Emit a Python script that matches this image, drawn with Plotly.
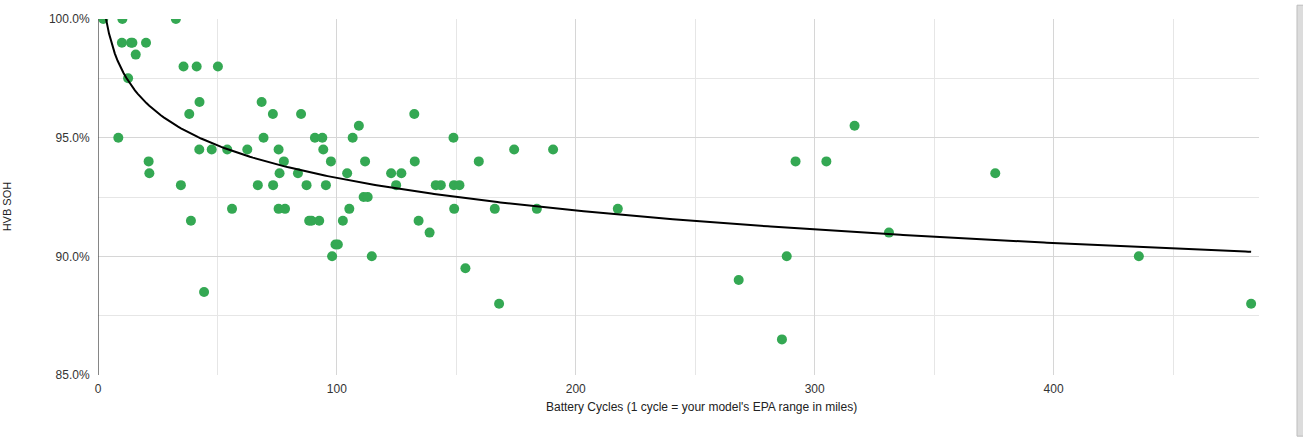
import numpy as np
import plotly.graph_objects as go

# Battery cycles (x) and HVB SOH (%), grouped by SOH row
soh_100_0 = [2.2, 10.2, 32.6]
soh_99_0 = [10.0, 13.8, 14.4, 20.1]
soh_98_5 = [15.8]
soh_98_0 = [35.8, 41.3, 50.2]
soh_97_5 = [12.6]
soh_96_5 = [42.5, 68.5]
soh_96_0 = [38.2, 73.2, 85.0, 132.4]
soh_95_5 = [109.2, 316.7]
soh_95_0 = [8.5, 69.3, 90.8, 93.9, 106.6, 148.8]
soh_94_5 = [42.4, 47.6, 54.1, 62.5, 75.6, 94.3, 174.2, 190.5]
soh_94_0 = [21.2, 77.8, 97.5, 111.8, 132.6, 159.4, 292.0, 304.9]
soh_93_5 = [21.5, 76.0, 83.7, 104.3, 122.7, 127.0, 375.6]
soh_93_0 = [34.7, 66.9, 73.3, 87.3, 95.4, 124.8, 141.4, 143.5, 149.0, 151.3]
soh_92_5 = [111.2, 112.9]
soh_92_0 = [56.1, 75.6, 78.3, 105.2, 149.1, 166.1, 183.7, 217.6]
soh_91_5 = [38.9, 88.4, 89.4, 92.6, 102.5, 134.2]
soh_91_0 = [138.8, 331.1]
soh_90_5 = [99.4, 100.4]
soh_90_0 = [98.0, 114.6, 288.3, 435.7]
soh_89_5 = [153.8]
soh_89_0 = [268.2]
soh_88_5 = [44.4]
soh_88_0 = [167.9, 482.7]
soh_86_5 = [286.3]

rows = {
    100.0: soh_100_0, 99.0: soh_99_0, 98.5: soh_98_5, 98.0: soh_98_0,
    97.5: soh_97_5, 96.5: soh_96_5, 96.0: soh_96_0, 95.5: soh_95_5,
    95.0: soh_95_0, 94.5: soh_94_5, 94.0: soh_94_0, 93.5: soh_93_5,
    93.0: soh_93_0, 92.5: soh_92_5, 92.0: soh_92_0, 91.5: soh_91_5,
    91.0: soh_91_0, 90.5: soh_90_5, 90.0: soh_90_0, 89.5: soh_89_5,
    89.0: soh_89_0, 88.5: soh_88_5, 88.0: soh_88_0, 86.5: soh_86_5,
}
cycles = []
soh = []
for s, xs in rows.items():
    for c in xs:
        cycles.append(c)
        soh.append(s)
cycles = np.array(cycles)
soh = np.array(soh)

x_ticks = [0, 100, 200, 300, 400]
y_ticks = [85, 90, 95, 100]
y_tick_labels = ["85.0%", "90.0%", "95.0%", "100.0%"]

# Logarithmic trendline fitted to the data (as the spreadsheet does)
b, a = np.polyfit(np.log(cycles), soh, 1)
tx = np.linspace(cycles.min(), cycles.max(), 400)
ty = a + b * np.log(tx)

FONT = "Liberation Sans, Arial, sans-serif"

fig = go.Figure()
fig.add_trace(go.Scatter(x=cycles, y=soh, mode="markers",
                         marker=dict(color="#34a853", size=10, line=dict(width=0)),
                         showlegend=False, cliponaxis=True))
fig.add_trace(go.Scatter(x=tx, y=ty, mode="lines",
                         line=dict(color="#000000", width=2),
                         showlegend=False))

fig.update_layout(
    width=1303, height=437,
    margin=dict(l=98, r=44, t=14, b=62),
    paper_bgcolor="white", plot_bgcolor="white",
    font=dict(family=FONT, size=12, color="#333333"),
    xaxis=dict(range=[0, 486], tickvals=x_ticks, ticktext=[str(v) for v in x_ticks],
               showgrid=True, gridcolor="#d6d6d6", gridwidth=1,
               minor=dict(dtick=50, showgrid=True, gridcolor="#e6e6e6"),
               zeroline=False, showline=False,
               ticks="outside", ticklen=3, tickcolor="rgba(0,0,0,0)",
               tickfont=dict(size=12, color="#333333")),
    yaxis=dict(range=[85, 100], tickvals=y_ticks, ticktext=y_tick_labels,
               showgrid=True, gridcolor="#d6d6d6", gridwidth=1,
               minor=dict(dtick=2.5, showgrid=True, gridcolor="#e6e6e6"),
               zeroline=False, showline=False,
               ticks="outside", ticklen=5, tickcolor="rgba(0,0,0,0)",
               tickfont=dict(size=12, color="#333333")),
    annotations=[
        dict(text="Battery Cycles (1 cycle = your model's EPA range in miles)",
             xref="paper", yref="paper", x=(701 - 98) / 1161, y=0,
             yshift=-32, xanchor="center", yanchor="middle", showarrow=False,
             font=dict(size=12, color="#222222")),
        dict(text="HVB SOH", xref="paper", yref="paper", x=0, xshift=-91,
             y=(375 - 204) / 361, xanchor="center", yanchor="middle",
             textangle=-90, showarrow=False, font=dict(size=11, color="#222222")),
    ],
    shapes=[
        dict(type="line", xref="x", yref="paper", x0=0, x1=0, y0=0, y1=1,
             line=dict(color="#444444", width=1.3), layer="above"),
        dict(type="rect", xref="paper", yref="paper",
             x0=(1297 - 98) / 1161, x1=(1304 - 98) / 1161,
             y0=-62 / 361, y1=1 + 14 / 361,
             fillcolor="#dcdcdc", line=dict(color="#bdbdbd", width=1)),
    ],
)

fig.write_html("out.html")
